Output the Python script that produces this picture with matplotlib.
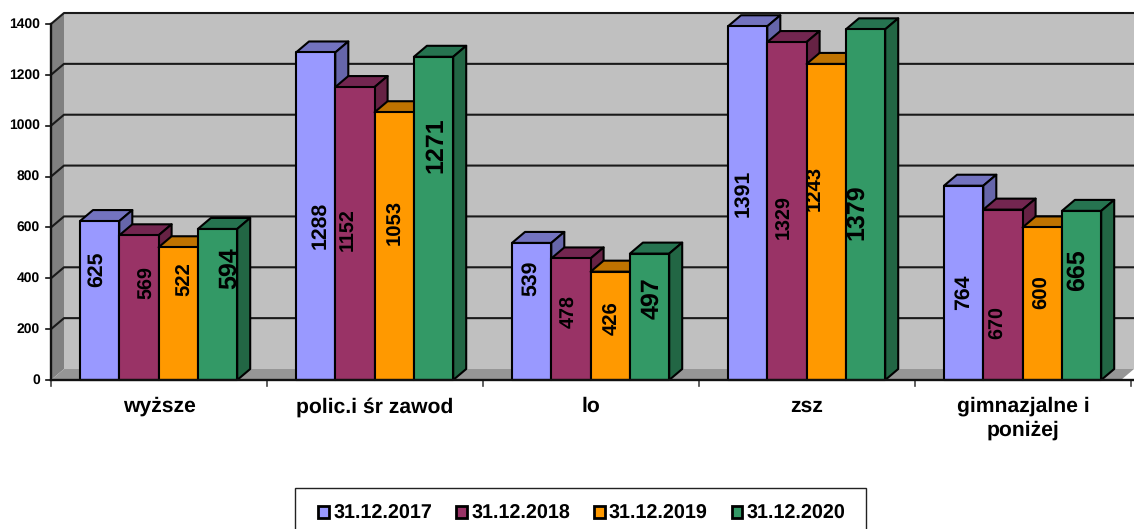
import matplotlib
matplotlib.use('Agg')
import matplotlib.pyplot as plt
from matplotlib.patches import Patch, Polygon, Rectangle

plt.rcParams['font.family'] = ['Liberation Sans', 'DejaVu Sans']
plt.rcParams['font.weight'] = 'bold'
plt.rcParams['text.hinting'] = 'no_hinting'

categories = ['wyższe', 'polic.i śr zawod', 'lo', 'zsz', 'gimnazjalne i\nponiżej']
series_names = ['31.12.2017', '31.12.2018', '31.12.2019', '31.12.2020']
values_2017 = [625, 1288, 539, 1391, 764]
values_2018 = [569, 1152, 478, 1329, 670]
values_2019 = [522, 1053, 426, 1243, 600]
values_2020 = [594, 1271, 497, 1379, 665]
y_ticks = [0, 200, 400, 600, 800, 1000, 1200, 1400]

all_series = [values_2017, values_2018, values_2019, values_2020]
front_colors = ['#9999FF', '#993366', '#FF9900', '#339966']
top_colors = ['#7373BF', '#732650', '#BF7300', '#267350']
side_colors = ['#6666AA', '#662244', '#AA6600', '#226644']

# label centres in pixels of the picture, one row per series
label_px = [[(97, 269), (320, 225), (531, 278), (743, 193), (963, 292)],
            [(147, 283), (348, 230), (569, 312), (784, 217), (998, 323)],
            [(185, 279), (395, 222), (612, 318), (815, 188), (1042, 292)],
            [(230, 268), (436, 145), (652, 298), (857, 212), (1077, 270)]]
label_sizes = [15.3, 14.2, 14.6, 18]

W, H = 1134, 529
fig = plt.figure(figsize=(W / 100, H / 100), dpi=100)
ax = fig.add_axes([51 / W, (H - 380) / H, 1080 / W, 356 / H])
ax.set_xlim(0, 5)
ax.set_ylim(0, 1400)
ax.axis('off')

# 3d depth, in data units
dx = 13 / 216
dy = 11 / (356 / 1400)
right = 1083 / 216


def poly(pts, color, edge='none', lw=0.0, z=1):
    ax.add_patch(Polygon(pts, closed=True, facecolor=color, edgecolor=edge, linewidth=lw,
                         zorder=z, clip_on=False, joinstyle='round'))


# walls
poly([(dx, dy), (right, dy), (right, 1400 + dy), (dx, 1400 + dy)], '#C0C0C0')
poly([(0, 0), (dx, dy), (dx, 1400 + dy), (0, 1400)], '#808080')
poly([(0, 0), (right - dx, 0), (right, dy), (dx, dy)], '#969696')

# gridlines, running along the back wall and down the side wall
for t in y_ticks:
    if t > 0:
        ax.plot([0, dx, right], [t, t + dy, t + dy], color='#1A1A1A', lw=1.5, zorder=2,
                clip_on=False, solid_capstyle='butt')
    ax.plot([-5 / 216, 0], [t, t], color='#111111', lw=1.2, zorder=2, clip_on=False)
    ax.text(-11 / 216, t, str(t), ha='right', va='center', fontsize=10, color='black')

ax.plot([0, 0], [0, 1400], color='#111111', lw=1.7, zorder=2, clip_on=False)
ax.plot([0, 1083 / 216], [0, 0], color='#111111', lw=1.7, zorder=9, clip_on=False)
for i in range(6):
    ax.plot([i, i], [0, -22], color='#444444', lw=1.2, zorder=2, clip_on=False)

# bars
bar_w = 39.3 / 216
start = 29 / 216
for c in range(len(categories)):
    for s, vals in enumerate(all_series):
        v = vals[c]
        x0 = c + start + s * bar_w
        x1 = x0 + bar_w
        z = 3 + c + s * 0.1
        poly([(x0, v), (x1, v), (x1 + dx, v + dy), (x0 + dx, v + dy)], top_colors[s],
             'black', 1.5, z)
        poly([(x1, 0), (x1 + dx, dy), (x1 + dx, v + dy), (x1, v)], side_colors[s],
             'black', 1.5, z)
        poly([(x0, 0), (x1, 0), (x1, v), (x0, v)], front_colors[s], 'black', 1.5, z)

for s, vals in enumerate(all_series):
    for c, v in enumerate(vals):
        px, py = label_px[s][c]
        fig.text(px / W, 1 - py / H, str(v), rotation=90, ha='center', va='center',
                 fontsize=label_sizes[s], color='black', zorder=20)

# category labels
for c, name in enumerate(categories):
    ax.text(c + 0.5, -66, name, ha='center', va='top', fontsize=15.2, color='black',
            linespacing=1.25, clip_on=False)

# legend frame runs off the bottom of the picture, so it is drawn apart from the legend
fig.add_artist(Rectangle((294.5 / W, -5 / H), 571 / W, (H - 488 + 5) / H, transform=fig.transFigure,
                         facecolor='white', edgecolor='#222222', linewidth=1.0))
handles = [Patch(facecolor=col, edgecolor='black', linewidth=2.0) for col in front_colors]
leg = fig.legend(handles, series_names, loc='center', bbox_to_anchor=(582 / W, 1 - 514 / H),
                 ncol=4, fontsize=14.2, frameon=False,
                 handlelength=0.55, handleheight=0.55, handletextpad=0.22,
                 columnspacing=1.2, borderpad=0, borderaxespad=0)
leg.set_zorder(5)

fig.savefig('out.png', dpi=100)
